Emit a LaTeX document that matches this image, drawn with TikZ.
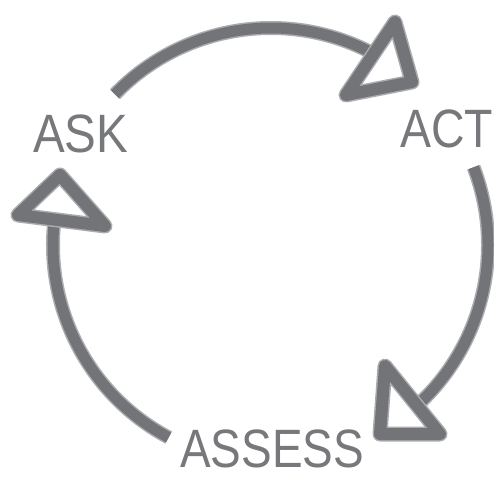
\documentclass[tikz,border=0pt]{standalone}
\usepackage{fontspec}
\setmainfont{Liberation Sans}
\definecolor{inkgray}{HTML}{737477}
\definecolor{edgegray}{HTML}{ABACAF}
\definecolor{textgray}{HTML}{77787B}
\begin{document}
\begin{tikzpicture}[x=1pt,y=1pt,
  brush/.style={draw=inkgray, line width=11pt, line cap=butt,
    preaction={draw=edgegray, line width=14pt}},
  tribrush/.style={draw=inkgray, line width=12pt, line join=round,
    preaction={draw=edgegray, line width=15pt, line join=round}},
  label/.style={text=textgray, font=\fontsize{54}{54}\selectfont, inner sep=0pt, text depth=0pt}]
\useasboundingbox (0,0) rectangle (494,477);
\coordinate (c) at (271,232);
% arcs of the cycle
\draw[brush] ([shift={(136:217)}]c) arc[start angle=136, end angle=61, radius=217];
\draw[brush] ([shift={(21:217)}]c) arc[start angle=21, end angle=-49, radius=217];
\draw[brush] ([shift={(242:218)}]c) arc[start angle=242, end angle=173, radius=218];
% open triangle heads
\draw[tribrush] (395,455) -- (412,395) -- (346,382) -- cycle;
\draw[tribrush] (385,111) -- (380,43) -- (440,43) -- cycle;
\draw[tribrush] (60,302) -- (18,262) -- (105,251) -- cycle;
% labels
\node[label, anchor=base west, xscale=0.88] (ask) at (33,324) {ASK};
\node[label, anchor=base west, xscale=0.86] (act) at (400,329) {ACT};
\node[label, anchor=base west, xscale=0.85] (assess) at (180,10) {ASSESS};
\end{tikzpicture}
\end{document}
